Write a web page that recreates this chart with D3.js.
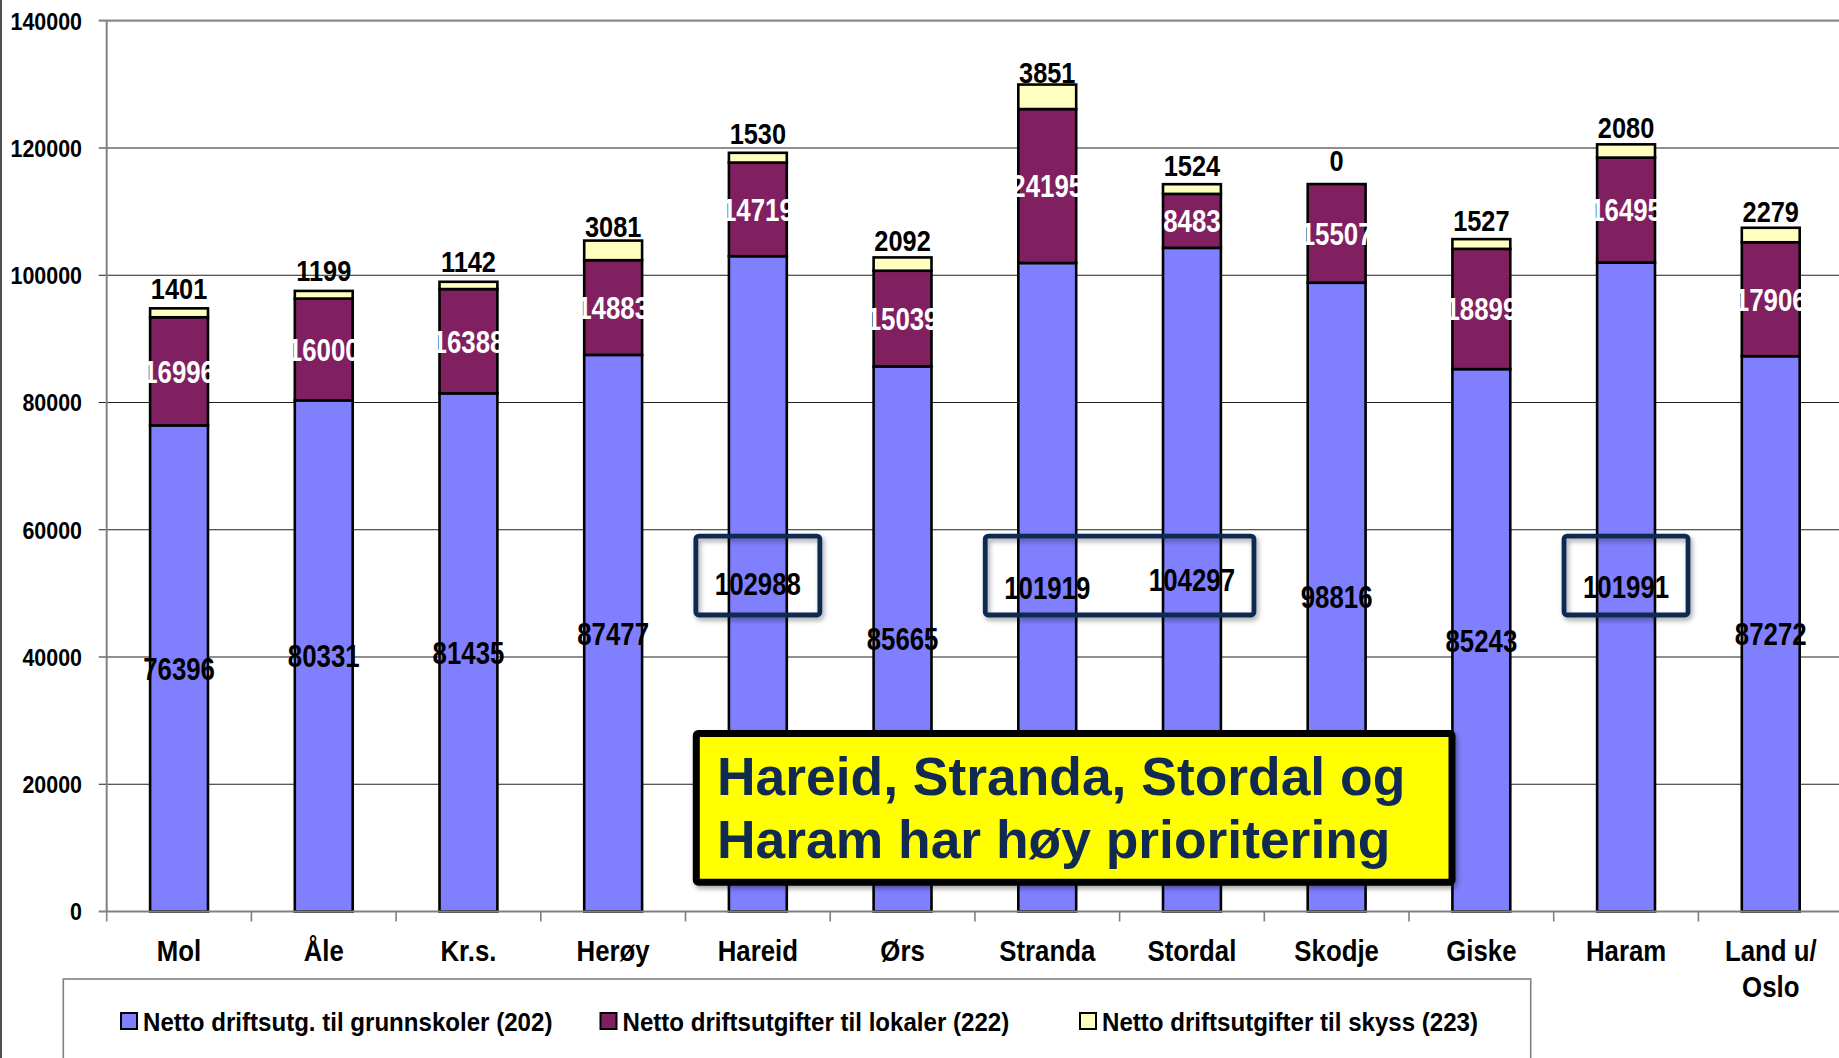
<!DOCTYPE html>
<html>
<head>
<meta charset="utf-8">
<script src="https://cdn.jsdelivr.net/npm/d3@7"></script>
<style>
  html, body { margin: 0; padding: 0; background: #fff; overflow: hidden; }
  svg { display: block; }
  text { font-family: "Liberation Sans", Arial, sans-serif; font-weight: bold; }
</style>
</head>
<body>
<svg id="chart" width="1839" height="1058"></svg>
<script>
// ── Data ──────────────────────────────────────────────────────────────────────
const categories  = ['Mol', 'Åle', 'Kr.s.', 'Herøy', 'Hareid', 'Ørs', 'Stranda',
                     'Stordal', 'Skodje', 'Giske', 'Haram', 'Land u/\nOslo'];
const grunnskoler = [76396, 80331, 81435, 87477, 102988, 85665, 101919, 104297, 98816, 85243, 101991, 87272];
const lokaler     = [16996, 16000, 16388, 14883, 14719, 15039, 24195, 8483, 15507, 18899, 16495, 17906];
const skyss       = [1401, 1199, 1142, 3081, 1530, 2092, 3851, 1524, 0, 1527, 2080, 2279];
const seriesNames = ['Netto driftsutg. til grunnskoler (202)',
                     'Netto driftsutgifter til lokaler (222)',
                     'Netto driftsutgifter til skyss (223)'];
const yTicks      = [0, 20000, 40000, 60000, 80000, 100000, 120000, 140000];
const highlighted = [['Hareid'], ['Stranda', 'Stordal'], ['Haram']];
const noteLines   = ['Hareid, Stranda, Stordal og', 'Haram har høy prioritering'];

// ── Layout ────────────────────────────────────────────────────────────────────
const COLORS = ['#8080ff', '#802060', '#ffffc0'];
const NAVY   = '#102a52';
const X0 = 106.7, STEP = 144.7;
const Y_TOP = 20.7, Y_ZERO = 911.5;

const svg = d3.select('#chart');

const x = d3.scaleBand()
  .domain(categories)
  .range([X0, X0 + STEP * categories.length])
  .paddingInner(0.6)
  .paddingOuter(0.3);

const y = d3.scaleLinear().domain([0, 140000]).range([Y_ZERO, Y_TOP]);
const cx = c => x(c) + x.bandwidth() / 2;

/** Place a text horizontally condensed by factor k around its anchor. */
function placeText(sel, px, py, k) {
  return sel.attr('transform', `translate(${px},${py}) scale(${k},1)`);
}

// drop shadow for the callouts
const defs = svg.append('defs');
const f = defs.append('filter').attr('id', 'shadow')
  .attr('x', '-10%').attr('y', '-10%').attr('width', '130%').attr('height', '140%');
f.append('feDropShadow').attr('dx', 2).attr('dy', 3).attr('stdDeviation', 2.5)
  .attr('flood-color', '#000').attr('flood-opacity', 0.35);

// outer frame line on the left
svg.append('line').attr('x1', 1).attr('x2', 1).attr('y1', 0).attr('y2', 1058)
  .attr('stroke', '#222').attr('stroke-width', 1.6);

// ── Grid + y axis ─────────────────────────────────────────────────────────────
const xEnd = X0 + STEP * categories.length;
svg.append('g').selectAll('line')
  .data(yTicks.filter(t => t > 0))
  .enter().append('line')
    .attr('x1', X0 - 8).attr('x2', xEnd)
    .attr('y1', d => y(d)).attr('y2', d => y(d))
    .attr('stroke', d => d === 140000 ? '#888' : '#202020')
    .attr('stroke-width', d => d === 140000 ? 2.2 : 1.1);

svg.append('line').attr('x1', X0).attr('x2', X0).attr('y1', Y_TOP).attr('y2', Y_ZERO)
  .attr('stroke', '#808080').attr('stroke-width', 2);
svg.append('line').attr('x1', X0 - 8).attr('x2', X0).attr('y1', Y_ZERO).attr('y2', Y_ZERO)
  .attr('stroke', '#808080').attr('stroke-width', 2);

svg.append('g').selectAll('text')
  .data(yTicks)
  .enter().append('text')
    .attr('text-anchor', 'end')
    .attr('dy', '0.36em')
    .attr('font-size', 24.5)
    .text(d => d)
    .each(function (d) { placeText(d3.select(this), 82, y(d), 0.875); });

// ── Bars ──────────────────────────────────────────────────────────────────────
const table = categories.map((c, i) => ({
  cat: c, s0: grunnskoler[i], s1: lokaler[i], s2: skyss[i]
}));
const stack = d3.stack().keys(['s0', 's1', 's2'])(table);

const layers = svg.append('g').selectAll('g')
  .data(stack)
  .enter().append('g')
    .attr('fill', (d, i) => COLORS[i]);

layers.selectAll('rect')
  .data(d => d)
  .enter().append('rect')
    .attr('x', d => x(d.data.cat))
    .attr('width', x.bandwidth())
    .attr('y', d => y(d[1]))
    .attr('height', d => y(d[0]) - y(d[1]))
    .attr('stroke', '#000')
    .attr('stroke-width', 2.6);

// x axis line + ticks at band boundaries
svg.append('line').attr('x1', X0).attr('x2', xEnd).attr('y1', Y_ZERO).attr('y2', Y_ZERO)
  .attr('stroke', '#808080').attr('stroke-width', 2);
svg.append('g').selectAll('line')
  .data(d3.range(categories.length + 1))
  .enter().append('line')
    .attr('x1', i => X0 + i * x.step()).attr('x2', i => X0 + i * x.step())
    .attr('y1', Y_ZERO).attr('y2', Y_ZERO + 10)
    .attr('stroke', '#808080').attr('stroke-width', 1.6);

// ── Value labels ──────────────────────────────────────────────────────────────
const labels = svg.append('g');
stack[0].forEach(d => {
  placeText(labels.append('text'), cx(d.data.cat), (y(d[0]) + y(d[1])) / 2, 0.82)
    .attr('text-anchor', 'middle').attr('dy', '0.36em')
    .attr('font-size', 31.5).attr('fill', '#000')
    .text(d.data.s0);
});
stack[1].forEach(d => {
  placeText(labels.append('text'), cx(d.data.cat), (y(d[0]) + y(d[1])) / 2, 0.82)
    .attr('text-anchor', 'middle').attr('dy', '0.36em')
    .attr('font-size', 31.5).attr('fill', '#fff')
    .text(d.data.s1);
});
stack[2].forEach(d => {
  placeText(labels.append('text'), cx(d.data.cat), (y(d[0]) + y(d[1])) / 2 - 24, 0.86)
    .attr('text-anchor', 'middle').attr('dy', '0.36em')
    .attr('font-size', 29.5).attr('fill', '#000')
    .text(d.data.s2);
});

// ── Category labels ───────────────────────────────────────────────────────────
const catG = svg.append('g');
categories.forEach(c => {
  const t = placeText(catG.append('text'), cx(c), 961, 0.86)
    .attr('text-anchor', 'middle').attr('font-size', 30);
  c.split('\n').forEach((line, j) => {
    t.append('tspan').attr('x', 0).attr('y', j * 35.7).text(line);
  });
});

// ── Highlight boxes ───────────────────────────────────────────────────────────
svg.append('g').selectAll('rect')
  .data(highlighted)
  .enter().append('rect')
    .attr('x', d => cx(d[0]) - 62)
    .attr('width', d => cx(d[d.length - 1]) - cx(d[0]) + 124)
    .attr('y', y(59000))
    .attr('height', y(46600) - y(59000))
    .attr('rx', 3)
    .attr('fill', 'none')
    .attr('stroke', NAVY)
    .attr('stroke-width', 4.8)
    .attr('filter', 'url(#shadow)');

// ── Note box ──────────────────────────────────────────────────────────────────
svg.append('rect')
  .attr('x', 696.3).attr('y', 733.5).attr('width', 755.7).attr('height', 148.7)
  .attr('fill', '#ffff00').attr('stroke', '#000').attr('stroke-width', 7)
  .attr('rx', 2).attr('filter', 'url(#shadow)');
svg.append('g').selectAll('text')
  .data(noteLines)
  .enter().append('text')
    .attr('x', 717).attr('y', (d, i) => 795 + i * 63)
    .attr('font-size', 53.4).attr('fill', NAVY)
    .text(d => d);

// ── Legend ────────────────────────────────────────────────────────────────────
svg.append('rect')
  .attr('x', 63.3).attr('y', 979).attr('width', 1467.4).attr('height', 120)
  .attr('fill', '#fff').attr('stroke', '#808080').attr('stroke-width', 1.6);
const leg = svg.append('g').selectAll('g')
  .data(seriesNames)
  .enter().append('g')
    .attr('transform', (d, i) => `translate(${121 + i * 479.5},1013)`);
leg.append('rect')
  .attr('width', 16).attr('height', 16)
  .attr('fill', (d, i) => COLORS[i])
  .attr('stroke', '#000').attr('stroke-width', 2);
leg.append('text')
  .attr('font-size', 26)
  .attr('transform', 'translate(22,17.7) scale(0.927,1)')
  .text(d => d);
</script>
</body>
</html>
